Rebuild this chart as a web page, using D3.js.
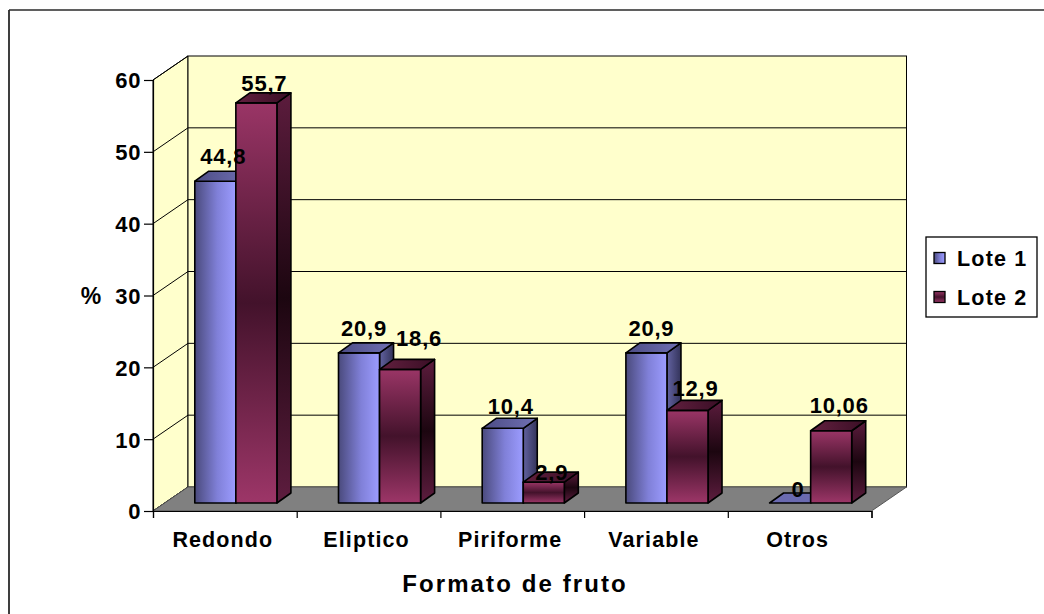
<!DOCTYPE html>
<html>
<head>
<meta charset="utf-8">
<script src="https://cdn.jsdelivr.net/npm/d3@7"></script>
<style>
  html, body { margin: 0; padding: 0; background: #ffffff; }
  svg { display: block; }
  text { font-family: "Liberation Sans", Arial, sans-serif; font-weight: bold; fill: #000; }
</style>
</head>
<body>
<svg id="chart" width="1044" height="614"></svg>
<script>
// Fruit shape distribution (%) for two lots
const categories = ["Redondo", "Eliptico", "Piriforme", "Variable", "Otros"];
const series = ["Lote 1", "Lote 2"];
const lote1 = [44.8, 20.9, 10.4, 20.9, 0];
const lote2 = [55.7, 18.6, 2.9, 12.9, 10.06];
const lote1Labels = ["44,8", "20,9", "10,4", "20,9", "0"];
const lote2Labels = ["55,7", "18,6", "2,9", "12,9", "10,06"];
const yTicks = [0, 10, 20, 30, 40, 50, 60];
const yTitle = "%";
const xTitle = "Formato de fruto";

// Hand-placed label offsets (dx, dy) from the default spot above each bar
const labelNudge = {
  "Redondo|Lote 1": [0, -3], "Redondo|Lote 2": [0, 2],
  "Eliptico|Lote 1": [-3, -3], "Eliptico|Lote 2": [11, -9],
  "Piriforme|Lote 1": [0, 0], "Piriforme|Lote 2": [0, 12],
  "Variable|Lote 1": [-3, -3], "Variable|Lote 2": [0, 0],
  "Otros|Lote 2": [0, -4]
};

const svg = d3.select("#chart");

// Outer chart frame (top and left edges visible)
svg.append("line").attr("x1", 9).attr("y1", 10).attr("x2", 1044).attr("y2", 10)
  .attr("stroke", "#2a2a2a").attr("stroke-width", 1.6);
svg.append("line").attr("x1", 9).attr("y1", 10).attr("x2", 9).attr("y2", 614)
  .attr("stroke", "#2a2a2a").attr("stroke-width", 1.8);

// 3D geometry: front plane, full depth vector, bar slab position within depth
const frontLeft = 153, frontRight = 871.5;
const depth = { dx: 35, dy: -24 };
const barFront = { dx: 11, dy: -8 };
const barDepth = { dx: 14, dy: -10 };

const x0 = d3.scaleBand().domain(categories).range([frontLeft, frontRight]).paddingInner(0).paddingOuter(0);
const x1 = d3.scaleBand().domain(series).range([0, x0.bandwidth()]).paddingInner(0).paddingOuter(0.75);
const y = d3.scaleLinear().domain([0, 60]).range([511, 80]);

// Gradients
const defs = svg.append("defs");
function linGrad(id, horizontal, stops) {
  const g = defs.append("linearGradient").attr("id", id)
    .attr("x1", 0).attr("y1", 0).attr("x2", horizontal ? 1 : 0).attr("y2", horizontal ? 0 : 1);
  stops.forEach(([o, c]) => g.append("stop").attr("offset", o).attr("stop-color", c));
}
linGrad("l1Front", true, [[0, "#4a4a7c"], [0.55, "#8080d8"], [1, "#9c9cff"]]);
linGrad("l1Top", true, [[0, "#4c4c84"], [1, "#7070b4"]]);
linGrad("l1Side", true, [[0, "#6262a0"], [1, "#33335a"]]);
linGrad("l2Front", false, [[0, "#9a3566"], [0.5, "#43122b"], [1, "#9d3668"]]);
linGrad("l2Top", true, [[0, "#62203f"], [1, "#3a0e25"]]);
linGrad("l2Side", false, [[0, "#5c1c3d"], [0.5, "#1c0610"], [1, "#5e1d3f"]]);

const fills = {
  "Lote 1": { front: "url(#l1Front)", top: "url(#l1Top)", side: "url(#l1Side)" },
  "Lote 2": { front: "url(#l2Front)", top: "url(#l2Top)", side: "url(#l2Side)" }
};

const wallFill = "#ffffcc";
const plot = svg.append("g");

// Side wall (left)
plot.append("polygon")
  .attr("points", [[frontLeft, y(0)], [frontLeft, y(60)], [frontLeft + depth.dx, y(60) + depth.dy], [frontLeft + depth.dx, y(0) + depth.dy]].map(p => p.join(",")).join(" "))
  .attr("fill", wallFill).attr("stroke", "#000").attr("stroke-width", 1);

// Back wall
plot.append("rect")
  .attr("x", frontLeft + depth.dx).attr("y", y(60) + depth.dy)
  .attr("width", frontRight - frontLeft).attr("height", y(0) - y(60))
  .attr("fill", wallFill).attr("stroke", "#000").attr("stroke-width", 1);

// Gridlines on the back wall and across the side wall
yTicks.forEach(v => {
  if (v > 0 && v < 60) {
    plot.append("line")
      .attr("x1", frontLeft + depth.dx).attr("x2", frontRight + depth.dx)
      .attr("y1", y(v) + depth.dy).attr("y2", y(v) + depth.dy)
      .attr("stroke", "#000").attr("stroke-width", 1);
  }
  plot.append("line")
    .attr("x1", frontLeft).attr("y1", y(v))
    .attr("x2", frontLeft + depth.dx).attr("y2", y(v) + depth.dy)
    .attr("stroke", "#000").attr("stroke-width", 1);
});

// Floor
plot.append("polygon")
  .attr("points", [[frontLeft, y(0)], [frontRight, y(0)], [frontRight + depth.dx, y(0) + depth.dy], [frontLeft + depth.dx, y(0) + depth.dy]].map(p => p.join(",")).join(" "))
  .attr("fill", "#808080").attr("stroke", "#555").attr("stroke-width", 1);

// Bars: front face, top face, right side face
const rows = [];
categories.forEach((c, i) => {
  rows.push({ cat: c, s: "Lote 1", v: lote1[i], label: lote1Labels[i] });
  rows.push({ cat: c, s: "Lote 2", v: lote2[i], label: lote2Labels[i] });
});

const ptsStr = pts => pts.map(p => p[0].toFixed(2) + "," + p[1].toFixed(2)).join(" ");
const barG = svg.append("g");
rows.forEach(d => {
  const xl = x0(d.cat) + x1(d.s) + barFront.dx;
  const xr = xl + x1.bandwidth();
  const yb = y(0) + barFront.dy;
  const yt = y(d.v) + barFront.dy;
  const f = fills[d.s];
  const g = barG.append("g").attr("stroke", "#000").attr("stroke-width", 1.6).attr("stroke-linejoin", "round");
  if (d.v > 0) {
    g.append("polygon").attr("points", ptsStr([[xr, yt], [xr + barDepth.dx, yt + barDepth.dy], [xr + barDepth.dx, yb + barDepth.dy], [xr, yb]]))
      .attr("fill", f.side);
    g.append("rect").attr("x", xl).attr("y", yt).attr("width", xr - xl).attr("height", yb - yt)
      .attr("fill", f.front);
  }
  g.append("polygon").attr("points", ptsStr([[xl, yt], [xr, yt], [xr + barDepth.dx, yt + barDepth.dy], [xl + barDepth.dx, yt + barDepth.dy]]))
    .attr("fill", d.v > 0 ? f.top : "#6a6ab0");
});

// Value labels above each bar
rows.forEach(d => {
  const cx = x0(d.cat) + x1(d.s) + barFront.dx + x1.bandwidth() / 2 + barDepth.dx / 2;
  const yt = y(d.v) + barFront.dy;
  const n = labelNudge[d.cat + "|" + d.s] || [0, 0];
  svg.append("text")
    .attr("x", cx + 1 + n[0]).attr("y", (d.v > 0 ? yt - 14 : yt - 6) + n[1])
    .attr("text-anchor", "middle")
    .style("font-size", "22px").style("letter-spacing", "0.8px")
    .text(d.label);
});

// Y axis
const yAxis = d3.axisLeft(y).tickValues(yTicks).tickSize(9).tickPadding(3).tickFormat(d3.format("d"));
const yAxisG = svg.append("g").attr("transform", `translate(${frontLeft},0)`).call(yAxis);
yAxisG.select(".domain").attr("stroke", "#000").attr("stroke-width", 1.2);
yAxisG.selectAll(".tick line").attr("stroke", "#000").attr("stroke-width", 1.2);
yAxisG.selectAll(".tick text")
  .attr("font-family", null).attr("font-size", null)
  .style("font-size", "22px").style("letter-spacing", "0.6px").attr("dy", "0.36em");

// X axis: boundary ticks between categories
const xb = d3.scaleLinear().domain([0, categories.length]).range([frontLeft, frontRight]);
const xAxis = d3.axisBottom(xb).tickValues(d3.range(categories.length + 1)).tickSize(7).tickFormat("");
const xAxisG = svg.append("g").attr("transform", `translate(0,${y(0)})`).call(xAxis);
xAxisG.select(".domain").attr("stroke", "#000").attr("stroke-width", 1.2);
xAxisG.selectAll(".tick line").attr("stroke", "#000").attr("stroke-width", 1.2);

// Category labels
svg.selectAll(".cat").data(categories).enter().append("text")
  .attr("class", "cat")
  .attr("x", c => x0(c) + x0.bandwidth() / 2 - 2)
  .attr("y", 547)
  .attr("text-anchor", "middle")
  .style("font-size", "21.5px").style("letter-spacing", "1.1px")
  .text(c => c);

// Axis titles
svg.append("text").attr("x", 515).attr("y", 592).attr("text-anchor", "middle")
  .style("font-size", "24px").style("letter-spacing", "2.1px").text(xTitle);
svg.append("text").attr("x", 91).attr("y", 304).attr("text-anchor", "middle")
  .style("font-size", "23px").text(yTitle);

// Legend
const legend = svg.append("g");
legend.append("rect").attr("x", 926).attr("y", 237).attr("width", 111).attr("height", 80)
  .attr("fill", "#fff").attr("stroke", "#000").attr("stroke-width", 1.3);
const legFill = { "Lote 1": "url(#l1Front)", "Lote 2": "url(#l2Front)" };
series.forEach((s, i) => {
  const cy = 258 + i * 39;
  legend.append("rect").attr("x", 934).attr("y", cy - 5.5).attr("width", 11).attr("height", 11)
    .attr("fill", legFill[s]).attr("stroke", "#000").attr("stroke-width", 1.3);
  legend.append("text").attr("x", 957).attr("y", cy + 7.5)
    .style("font-size", "21.5px").style("letter-spacing", "1.2px").text(s);
});
</script>
</body>
</html>
